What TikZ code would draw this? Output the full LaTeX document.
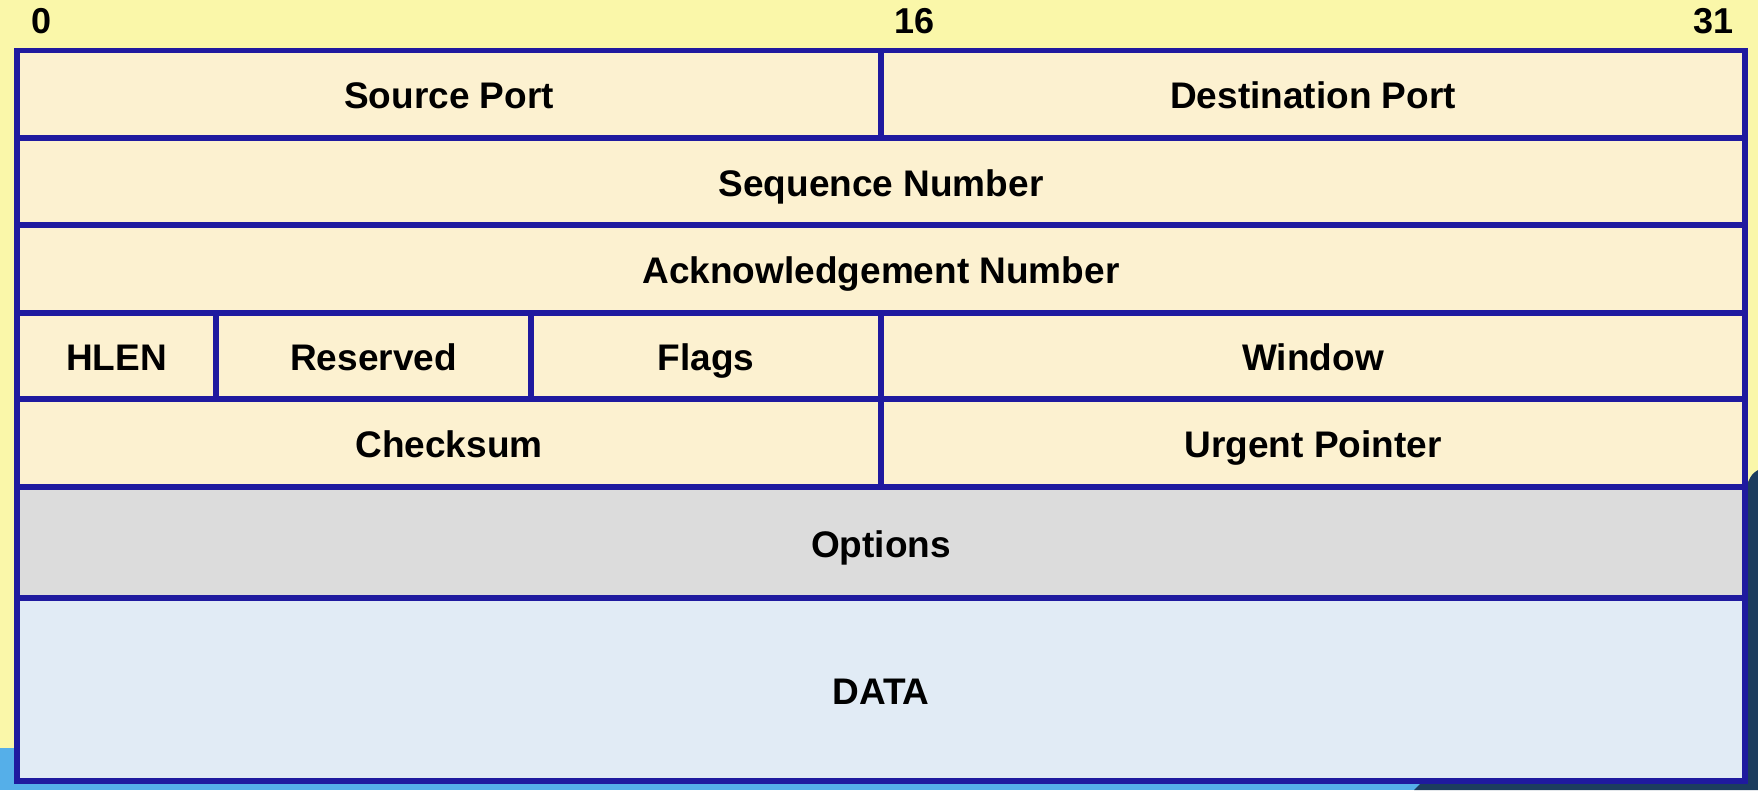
\documentclass[tikz,border=0pt]{standalone}
\usepackage{fontspec}
\setmainfont{Liberation Sans}
\definecolor{bgyellow}{RGB}{250,247,169}
\definecolor{cream}{RGB}{252,241,208}
\definecolor{frame}{RGB}{31,26,159}
\definecolor{optgray}{RGB}{220,220,220}
\definecolor{datablue}{RGB}{225,235,245}
\definecolor{deskblue}{RGB}{85,175,233}
\definecolor{desknavy}{RGB}{28,61,95}
\begin{document}
\begin{tikzpicture}[x=1pt,y=-1pt,
  cell/.style={draw=frame,line width=5.5pt,line join=miter},
  lab/.style={anchor=base,inner sep=0pt,font=\fontsize{37}{40}\selectfont\bfseries},
  num/.style={anchor=base,inner sep=0pt,font=\fontsize{36}{40}\selectfont\bfseries}]
\useasboundingbox (0,0) rectangle (1758,790);
% background
\fill[bgyellow] (0,0) rectangle (1758,790);
\fill[deskblue] (0,748) rectangle (1758,790);
\fill[desknavy] (1748,482) .. controls (1752,474) .. (1758,470) -- (1758,790) -- (1414,790) -- (1420,784) -- (1748,784) -- cycle;
% bit numbers
\node[num] (b0) at (41.5,33) {0};
\node[num] (b16) at (914.5,33) {16};
\node[num] (b31) at (1713.5,33) {31};
% cells
\path[cell,fill=cream] (17,50.5) rectangle (881,138);
\path[cell,fill=cream] (881,50.5) rectangle (1745,138);
\path[cell,fill=cream] (17,138) rectangle (1745,225);
\path[cell,fill=cream] (17,225) rectangle (1745,313);
\path[cell,fill=cream] (17,313) rectangle (216,399);
\path[cell,fill=cream] (216,313) rectangle (531,399);
\path[cell,fill=cream] (531,313) rectangle (881,399);
\path[cell,fill=cream] (881,313) rectangle (1745,399);
\path[cell,fill=cream] (17,399) rectangle (881,487);
\path[cell,fill=cream] (881,399) rectangle (1745,487);
\path[cell,fill=optgray] (17,487) rectangle (1745,598);
\path[cell,fill=datablue] (17,598) rectangle (1745,781);
% labels
\node[lab] (srcport) at (449,108.5) {Source Port};
\node[lab] (dstport) at (1313,108.5) {Destination Port};
\node[lab] (seqnum) at (881,196) {Sequence Number};
\node[lab] (acknum) at (881,283.5) {Acknowledgement Number};
\node[lab] (hlen) at (116.5,370.5) {HLEN};
\node[lab] (resv) at (373.5,370.5) {Reserved};
\node[lab] (flags) at (706,370.5) {Flags};
\node[lab] (window) at (1313,370.5) {Window};
\node[lab] (cksum) at (449,457.5) {Checksum};
\node[lab] (urgptr) at (1313,457.5) {Urgent Pointer};
\node[lab] (opts) at (881,557) {Options};
\node[lab] (data) at (881,704) {DATA};
\end{tikzpicture}
\end{document}
